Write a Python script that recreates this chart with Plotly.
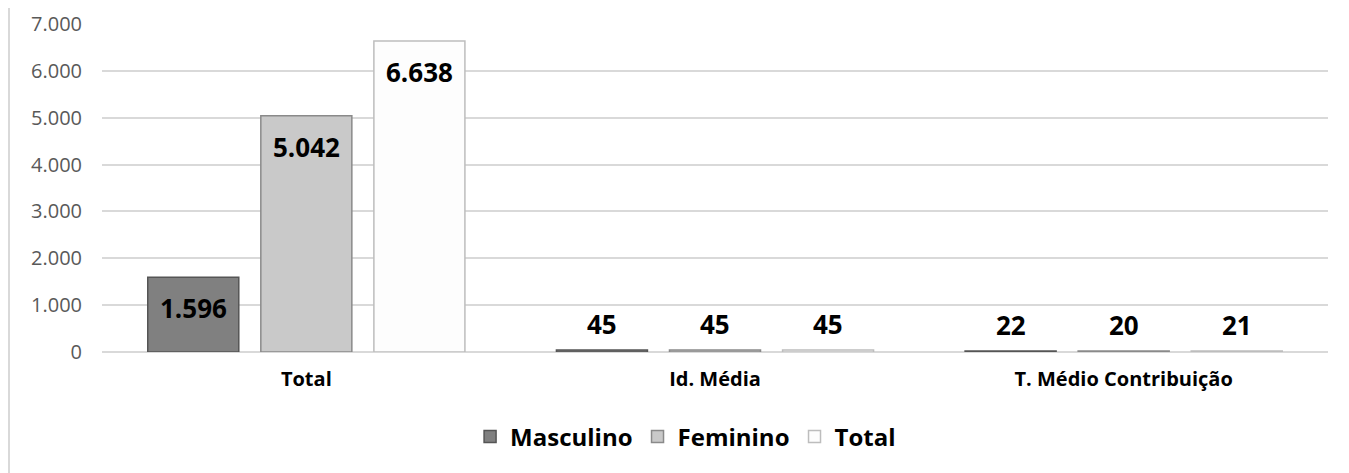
import plotly.graph_objects as go

categories = ["Total", "Id. Média", "T. Médio Contribuição"]
series_names = ["Masculino", "Feminino", "Total"]
masculino = [1596, 45, 22]
feminino = [5042, 45, 20]
total = [6638, 45, 21]
y_ticks = [0, 1000, 2000, 3000, 4000, 5000, 6000, 7000]

values = [masculino, feminino, total]
fills = ["#808080", "#c9c9c9", "#fdfdfd"]
edges = ["#555555", "#8a8a8a", "#bdbdbd"]

FONT = "Open Sans"
W, H = 1341, 465
ML, MR, MT, MB = 94, 21, 16, 121
plot_w = W - ML - MR
plot_h = H - MT - MB
slot = plot_w / 3 * (1 - 0.17) / 3

fig = go.Figure()
for i, (name, vals) in enumerate(zip(series_names, values)):
    fig.add_trace(go.Bar(
        name=name, x=categories, y=vals,
        marker=dict(color=fills[i], line=dict(color=edges[i], width=1.5)),
    ))

ann = []
for i, vals in enumerate(values):
    for c, v in zip(categories, vals):
        inside = v > 500
        ann.append(dict(
            x=c, y=v, xref="x", yref="y",
            text=f"{v:,}".replace(",", "."),
            showarrow=False, xanchor="center", yanchor="middle",
            xshift=(i - 1) * slot, yshift=-31 if inside else 26,
            font=dict(family=FONT, size=26, color="#000000", weight="bold"),
        ))

fig.update_layout(
    width=W, height=H,
    margin=dict(l=ML, r=MR, t=MT, b=MB, autoexpand=False),
    paper_bgcolor="#ffffff", plot_bgcolor="#ffffff",
    separators=",.",
    barmode="group", bargap=0.17, bargroupgap=0.195,
    font=dict(family=FONT),
    annotations=ann,
    showlegend=True,
    legend=dict(
        orientation="h", x=0.476, xanchor="center", y=-85 / plot_h, yanchor="middle",
        font=dict(family=FONT, size=24, color="#000000", weight="bold"),
        itemwidth=30, traceorder="normal",
    ),
    xaxis=dict(
        showgrid=False, showline=False, ticks="", zeroline=False,
        tickfont=dict(family=FONT, size=20, color="#000000", weight="bold"),
        ticklabelstandoff=13,
    ),
    yaxis=dict(
        range=[0, 7000], tickvals=y_ticks, tickformat=",d",
        showgrid=True, gridcolor="#d9d9d9", gridwidth=1.5,
        zeroline=True, zerolinecolor="#d9d9d9", zerolinewidth=2,
        showline=False, ticks="",
        tickfont=dict(family=FONT, size=20, color="#595959"),
        ticklabelstandoff=19,
    ),
    shapes=[dict(
        type="line", xref="paper", yref="paper",
        x0=(1 - ML) / plot_w, x1=(1 - ML) / plot_w,
        y0=-MB / plot_h, y1=1 + MT / plot_h,
        line=dict(color="#d9d9d9", width=2),
    )],
)

fig.write_html("out.html")
